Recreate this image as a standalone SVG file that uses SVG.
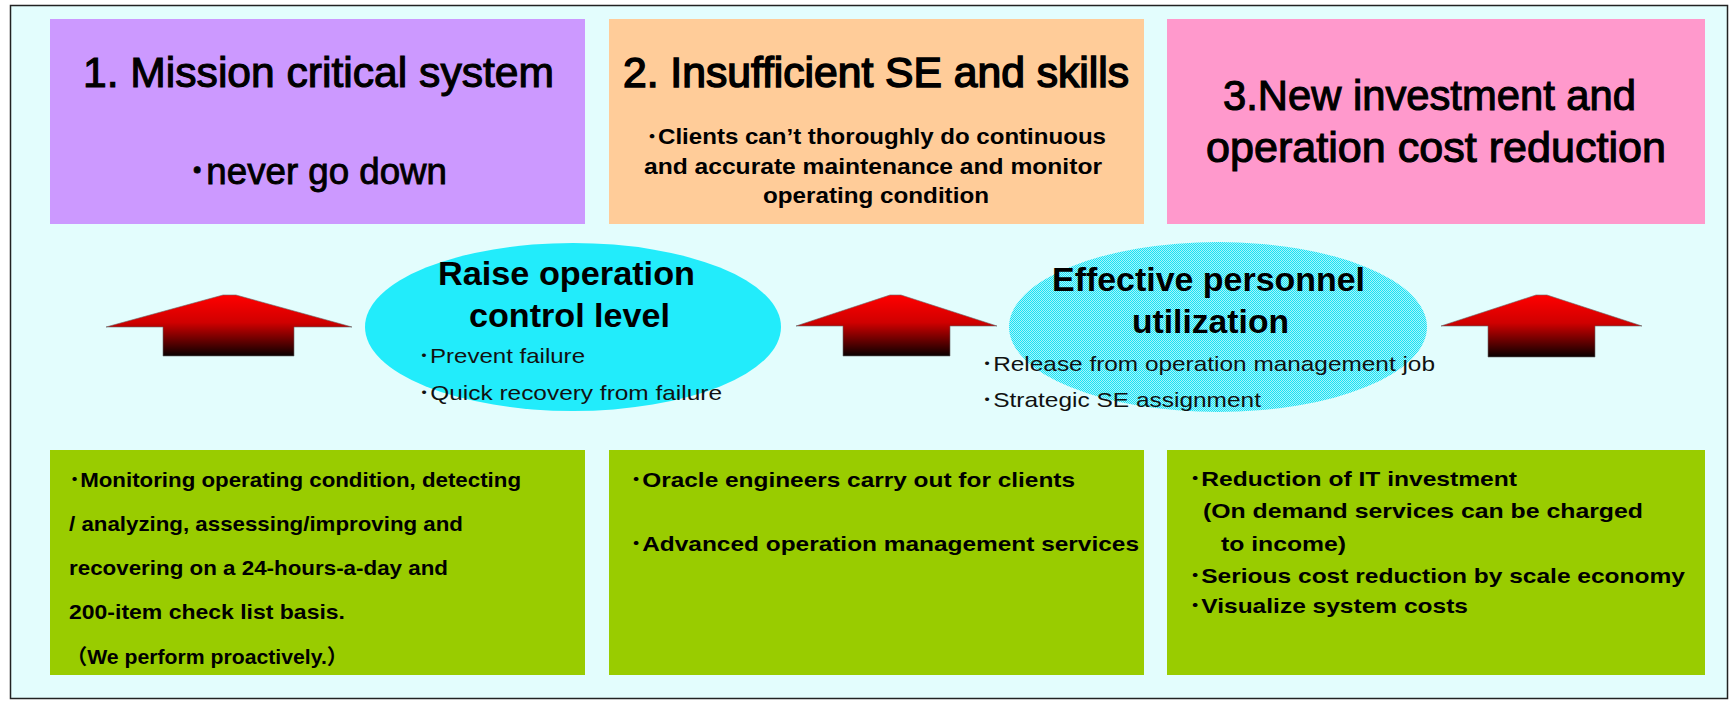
<svg xmlns="http://www.w3.org/2000/svg" width="1730" height="701" viewBox="0 0 1730 701">
<style>
  text { font-family: "Liberation Sans", Arial, "Noto Sans CJK JP", sans-serif; fill: #000; }
  .title { font-size: 42px; stroke: #000; stroke-width: 1.1px; }
  .title2 { font-size: 42px; stroke: #000; stroke-width: 1.5px; }
  .sub { font-size: 37px; stroke: #000; stroke-width: 0.9px; }
  .body { font-size: 21px; font-weight: bold; }
  .etitle { font-size: 33px; font-weight: bold; }
  .ebul { font-size: 21px; fill: #111; }
  .arrow { stroke: #6a6a6a; stroke-width: 0.6; fill: url(#arrowGrad); }
</style>
<defs>
  <linearGradient id="arrowGrad" x1="0" y1="0" x2="0" y2="1">
    <stop offset="0" stop-color="#ff0000"/>
    <stop offset="0.45" stop-color="#d00000"/>
    <stop offset="1" stop-color="#0a0000"/>
  </linearGradient>
  <pattern id="dither" x="0" y="0" width="2" height="2" patternUnits="userSpaceOnUse">
    <rect width="2" height="2" fill="#a8f4fa"/>
    <rect x="0" y="0" width="1" height="1" fill="#18e2f5"/>
    <rect x="1" y="1" width="1" height="1" fill="#18e2f5"/>
  </pattern>
</defs>

<rect x="0" y="0" width="1730" height="701" fill="#ffffff"/>
<rect id="frame" x="10.5" y="5.5" width="1717" height="693" fill="#e3fdfd" stroke="#222" stroke-width="1.5"/>

<g id="box-mission">
  <rect x="50" y="19" width="535" height="205" fill="#cc99ff"/>
  <text class="title" x="83" y="87" textLength="471" lengthAdjust="spacingAndGlyphs">1. Mission critical system</text>
  <text class="sub" x="188" y="184" textLength="259" lengthAdjust="spacingAndGlyphs">･never go down</text>
</g>

<g id="box-insufficient">
  <rect x="609" y="19" width="535" height="205" fill="#ffcc99"/>
  <text class="title2" x="623" y="87" textLength="506" lengthAdjust="spacingAndGlyphs">2. Insufficient SE and skills</text>
  <text class="body" x="646" y="144" textLength="460" lengthAdjust="spacingAndGlyphs" style="font-size:22px">･Clients can’t thoroughly do continuous</text>
  <text class="body" x="644" y="174" textLength="458" lengthAdjust="spacingAndGlyphs" style="font-size:22px">and accurate maintenance and monitor</text>
  <text class="body" x="763" y="203" textLength="226" lengthAdjust="spacingAndGlyphs" style="font-size:22px">operating condition</text>
</g>

<g id="box-investment">
  <rect x="1167" y="19" width="538" height="205" fill="#ff99cc"/>
  <text class="title" x="1223" y="110" textLength="413" lengthAdjust="spacingAndGlyphs">3.New investment and</text>
  <text class="title" x="1206" y="162" textLength="460" lengthAdjust="spacingAndGlyphs">operation cost reduction</text>
</g>

<g id="connectors">
  <polygon class="arrow" points="106,327 223,295 236,295 352,327 294,327 294,356 163,356 163,327"/>
  <polygon class="arrow" points="796,326 890,295 901,295 997,326 950,326 950,356 843,356 843,326"/>
  <polygon class="arrow" points="1441,326 1536,295 1547,295 1642,326 1595,326 1595,357 1488,357 1488,326"/>
</g>

<g id="ellipse-raise">
  <ellipse cx="573" cy="327" rx="208" ry="84" fill="#22ecfb"/>
  <text class="etitle" x="438" y="285" textLength="257" lengthAdjust="spacingAndGlyphs">Raise operation</text>
  <text class="etitle" x="469" y="327" textLength="201" lengthAdjust="spacingAndGlyphs">control level</text>
  <text class="ebul" x="418" y="363" textLength="167" lengthAdjust="spacingAndGlyphs">･Prevent failure</text>
  <text class="ebul" x="418" y="400" textLength="304" lengthAdjust="spacingAndGlyphs">･Quick recovery from failure</text>
</g>

<g id="ellipse-effective">
  <ellipse cx="1218" cy="327" rx="209" ry="85" fill="url(#dither)"/>
  <text class="etitle" x="1052" y="291" textLength="313" lengthAdjust="spacingAndGlyphs">Effective personnel</text>
  <text class="etitle" x="1132" y="333" textLength="157" lengthAdjust="spacingAndGlyphs">utilization</text>
  <text class="ebul" x="981" y="371" textLength="454" lengthAdjust="spacingAndGlyphs">･Release from operation management job</text>
  <text class="ebul" x="981" y="407" textLength="280" lengthAdjust="spacingAndGlyphs">･Strategic SE assignment</text>
</g>

<g id="box-monitoring">
  <rect x="50" y="450" width="535" height="225" fill="#99cc00"/>
  <text class="body" x="69" y="487" textLength="452" lengthAdjust="spacingAndGlyphs">･Monitoring operating condition, detecting</text>
  <text class="body" x="69" y="531" textLength="394" lengthAdjust="spacingAndGlyphs">/ analyzing, assessing/improving and</text>
  <text class="body" x="69" y="575" textLength="379" lengthAdjust="spacingAndGlyphs">recovering on a 24-hours-a-day and</text>
  <text class="body" x="69" y="619" textLength="276" lengthAdjust="spacingAndGlyphs">200-item check list basis.</text>
  <text class="body" x="66" y="664" textLength="282" lengthAdjust="spacingAndGlyphs">（We perform proactively.）</text>
</g>

<g id="box-oracle">
  <rect x="609" y="450" width="535" height="225" fill="#99cc00"/>
  <text class="body" x="630" y="487" textLength="445" lengthAdjust="spacingAndGlyphs">･Oracle engineers carry out for clients</text>
  <text class="body" x="630" y="551" textLength="509" lengthAdjust="spacingAndGlyphs">･Advanced operation management services</text>
</g>

<g id="box-reduction">
  <rect x="1167" y="450" width="538" height="225" fill="#99cc00"/>
  <text class="body" x="1189" y="486" textLength="328" lengthAdjust="spacingAndGlyphs">･Reduction of IT investment</text>
  <text class="body" x="1203" y="518" textLength="440" lengthAdjust="spacingAndGlyphs">(On demand services can be charged</text>
  <text class="body" x="1221" y="551" textLength="125" lengthAdjust="spacingAndGlyphs">to income)</text>
  <text class="body" x="1189" y="583" textLength="496" lengthAdjust="spacingAndGlyphs">･Serious cost reduction by scale economy</text>
  <text class="body" x="1189" y="613" textLength="279" lengthAdjust="spacingAndGlyphs">･Visualize system costs</text>
</g>
</svg>
